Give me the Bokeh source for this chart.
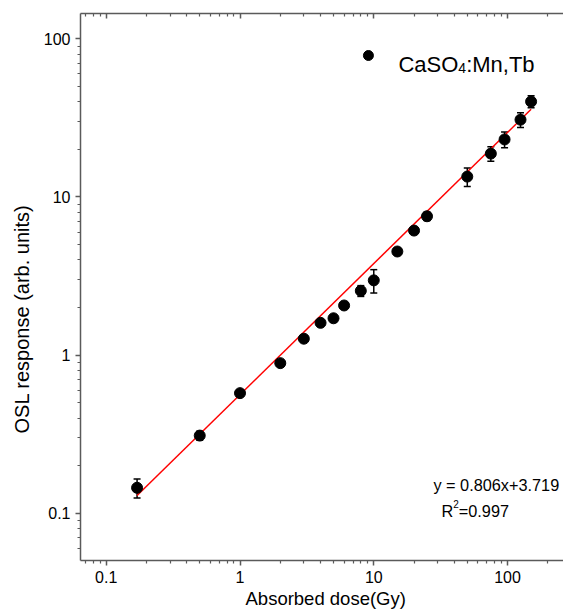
import numpy as np
from bokeh.plotting import figure
from bokeh.models import (LogAxis, FixedTicker, Whisker, TeeHead, ColumnDataSource,
                          Range1d, CustomJSTickFormatter, Title)
from bokeh.core.properties import value
from bokeh.embed import file_html
from bokeh.resources import INLINE

# ---- data ----
dose = [0.17, 0.5, 1, 2, 3, 4, 5, 6, 8, 10, 15, 20, 25, 50, 75, 95, 125, 150]
response = [0.145, 0.31, 0.575, 0.89, 1.27, 1.60, 1.71, 2.06, 2.55, 2.97,
            4.52, 6.13, 7.55, 13.45, 18.8, 23.1, 30.8, 40.1]
error = [0.02, 0.02, 0.02, 0.03, 0.04, 0.05, 0.05, 0.06, 0.2, 0.5,
         0.12, 0.3, 0.45, 1.8, 2.0, 2.6, 3.3, 3.5]

# log-log fit line (log10 y = a + b log10 x)
fit_slope = 0.829
fit_log_intercept = -0.25

x_major = [0.1, 1, 10, 100]
y_major = [0.1, 1, 10, 100]
x_tick_labels = ["0.1", "1", "10", "100"]
y_tick_labels = ["0.1", "1", "10", "100"]
x_minor = [0.07, 0.08, 0.09] + [m * d for d in (0.1, 1, 10) for m in range(2, 10)] + [200]
y_minor = [0.06, 0.07, 0.08, 0.09] + [m * d for d in (0.1, 1, 10) for m in range(2, 10)]

x_title = "Absorbed dose(Gy)"
y_title = "OSL response (arb. units)"
legend_main = "CaSO"
legend_sub = "4"
legend_rest = ":Mn,Tb"
eq_text = "y = 0.806x+3.719"
r2_a, r2_sup, r2_b = "R", "2", "=0.997"

FONT = "Liberation Sans"
AX_COL = "#5a5a5a"

p = figure(width=563, height=611, x_axis_type="log", y_axis_type="log",
           x_range=Range1d(0.0642, 262), y_range=Range1d(0.0503, 144.5),
           output_backend="svg", toolbar_location=None,
           min_border_left=80, min_border_right=0, min_border_top=13, min_border_bottom=51)
p.xgrid.visible = False
p.ygrid.visible = False
p.outline_line_color = None
p.background_fill_color = "white"
p.border_fill_color = "white"

p.xaxis.ticker = FixedTicker(ticks=x_major, minor_ticks=x_minor)
p.yaxis.ticker = FixedTicker(ticks=y_major, minor_ticks=y_minor)
p.xaxis.major_label_overrides = dict(zip(x_major, x_tick_labels))
p.yaxis.major_label_overrides = dict(zip(y_major, y_tick_labels))

for ax in (p.xaxis[0], p.yaxis[0]):
    ax.axis_line_color = AX_COL
    ax.axis_line_width = 1.5
    ax.major_tick_line_color = AX_COL
    ax.minor_tick_line_color = AX_COL
    ax.major_tick_line_width = 1.5
    ax.minor_tick_line_width = 1.2
    ax.major_tick_out = 5
    ax.major_tick_in = 0
    ax.minor_tick_out = 3
    ax.minor_tick_in = 0
    ax.major_label_text_font = FONT
    ax.major_label_text_font_size = "16px"
    ax.major_label_text_color = "black"
    ax.major_label_standoff = 5

top = LogAxis(ticker=FixedTicker(ticks=x_major, minor_ticks=x_minor),
              formatter=CustomJSTickFormatter(code="return ''"),
              axis_line_color=AX_COL, axis_line_width=1.5,
              major_tick_line_color=AX_COL, minor_tick_line_color=AX_COL,
              major_tick_line_width=1.5, minor_tick_line_width=1.2,
              major_tick_in=5, major_tick_out=0, minor_tick_in=3, minor_tick_out=0,
              major_label_standoff=0, major_label_text_font_size="0px")
p.add_layout(top, "above")

# axis titles as side-panel titles (allow shifting along the axis)
p.add_layout(Title(text=x_title, align="left", offset=165, standoff=0,
                   text_font=FONT, text_font_size="18.5px", text_font_style="normal",
                   text_color="black"), "below")
p.add_layout(Title(text=y_title, align="left", offset=127, standoff=16,
                   text_font=FONT, text_font_size="20px", text_font_style="normal",
                   text_color="black"), "left")

# fit line
fit_x = np.array([min(dose), max(dose)])
fit_y = 10 ** (fit_log_intercept + fit_slope * np.log10(fit_x))
p.line(fit_x, fit_y, line_color="red", line_width=1.5)

src = ColumnDataSource(dict(x=dose, y=response,
                            upper=[r + e for r, e in zip(response, error)],
                            lower=[r - e for r, e in zip(response, error)]))
p.add_layout(Whisker(source=src, base="x", upper="upper", lower="lower",
                     line_color="black", line_width=1.5,
                     upper_head=TeeHead(size=7, line_color="black", line_width=1.5),
                     lower_head=TeeHead(size=7, line_color="black", line_width=1.5)))
p.scatter("x", "y", source=src, marker="circle", size=11,
          fill_color="black", line_color="black")

# legend (manual, for the subscript)
leg_x, leg_y = 9.12, 78.4
p.scatter([leg_x], [leg_y], marker="circle", size=10, fill_color="black", line_color="black")
p.text([leg_x], [leg_y], text=[legend_main], x_offset=30, y_offset=8.7,
       text_font=value(FONT), text_font_size="22px", text_baseline="alphabetic", text_color="black")
p.text([leg_x], [leg_y], text=[legend_sub], x_offset=89.9, y_offset=12.7,
       text_font=value(FONT), text_font_size="14px", text_baseline="alphabetic", text_color="black")
p.text([leg_x], [leg_y], text=[legend_rest], x_offset=97.7, y_offset=8.7,
       text_font=value(FONT), text_font_size="22px", text_baseline="alphabetic", text_color="black")

# fit annotation
ann_x, ann_y = 27.9, 0.150
p.text([ann_x], [ann_y], text=[eq_text], x_offset=0, y_offset=0,
       text_font=value(FONT), text_font_size="16.3px", text_baseline="alphabetic", text_color="black")
p.text([ann_x], [ann_y], text=[r2_a], x_offset=8, y_offset=26,
       text_font=value(FONT), text_font_size="16.3px", text_baseline="alphabetic", text_color="black")
p.text([ann_x], [ann_y], text=[r2_sup], x_offset=19.8, y_offset=18.5,
       text_font=value(FONT), text_font_size="10px", text_baseline="alphabetic", text_color="black")
p.text([ann_x], [ann_y], text=[r2_b], x_offset=25.4, y_offset=26,
       text_font=value(FONT), text_font_size="16.3px", text_baseline="alphabetic", text_color="black")

open("out.html", "w").write(file_html(p, INLINE))
